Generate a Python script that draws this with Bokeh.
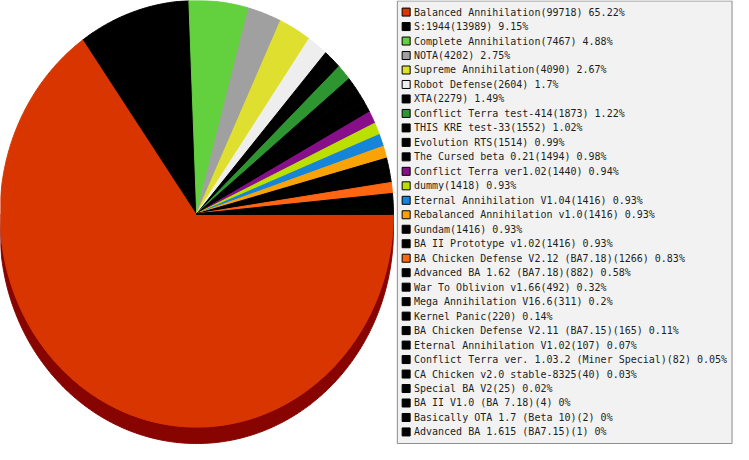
import numpy as np
from bokeh.plotting import figure
from bokeh.models import Range1d, ColumnDataSource
from bokeh.core.properties import value
from bokeh.embed import file_html
from bokeh.resources import INLINE

# ---------------- data ----------------
mods = [
    "Balanced Annihilation", "S:1944", "Complete Annihilation", "NOTA",
    "Supreme Annihilation", "Robot Defense", "XTA", "Conflict Terra test-414",
    "THIS KRE test-33", "Evolution RTS", "The Cursed beta 0.21",
    "Conflict Terra ver1.02", "dummy", "Eternal Annihilation V1.04",
    "Rebalanced Annihilation v1.0", "Gundam", "BA II Prototype v1.02",
    "BA Chicken Defense V2.12 (BA7.18)", "Advanced BA 1.62 (BA7.18)",
    "War To Oblivion v1.66", "Mega Annihilation V16.6", "Kernel Panic",
    "BA Chicken Defense V2.11 (BA7.15)", "Eternal Annihilation V1.02",
    "Conflict Terra ver. 1.03.2 (Miner Special)", "CA Chicken v2.0 stable-8325",
    "Special BA V2", "BA II V1.0 (BA 7.18)", "Basically OTA 1.7 (Beta 10)",
    "Advanced BA 1.615 (BA7.15)",
]
counts = [99718, 13989, 7467, 4202, 4090, 2604, 2279, 1873, 1552, 1514, 1494,
          1440, 1418, 1416, 1416, 1416, 1416, 1266, 882, 492, 311, 220, 165,
          107, 82, 40, 25, 4, 2, 1]
percents = ["65.22", "9.15", "4.88", "2.75", "2.67", "1.7", "1.49", "1.22",
            "1.02", "0.99", "0.98", "0.94", "0.93", "0.93", "0.93", "0.93",
            "0.93", "0.83", "0.58", "0.32", "0.2", "0.14", "0.11", "0.07",
            "0.05", "0.03", "0.02", "0", "0", "0"]
colors = ["#d93500", "#000000", "#63d13e", "#a0a0a0", "#dfdf2f", "#eeeeee",
          "#000000", "#2e9630", "#000000", "#000000", "#000000", "#880f8a",
          "#bbe000", "#1585d9", "#f9a307", "#000000", "#000000", "#ff6611",
          "#000000", "#000000", "#000000", "#000000", "#000000", "#000000",
          "#000000", "#000000", "#000000", "#000000", "#000000", "#000000"]

labels = [f"{m}({c}) {p}%" for m, c, p in zip(mods, counts, percents)]

# ---------------- layout (reference pixel space) ----------------
W, H = 733, 444
REF_W, REF_H = 749, 460
CX, CY, RX, RY, DEPTH = 200.5, 221.0, 201.0, 221.0, 17.0


def darken(h):
    h = h.lstrip("#")
    r, g, b = (int(h[i:i + 2], 16) for i in (0, 2, 4))
    f = lambda v: max(0, int(round(0.8 * v - 38)))
    return "#%02x%02x%02x" % (f(r), f(g), f(b))


vals = np.array(counts, dtype=float)
frac = vals / vals.sum()
ends = np.cumsum(frac) * 2 * np.pi
starts = ends - frac * 2 * np.pi

face_xs, face_ys = [], []
side_xs, side_ys, side_cols = [], [], []
for a, b, col in zip(starts, ends, colors):
    n = max(3, int(np.degrees(b - a) * 2) + 2)
    t = np.linspace(a, b, n)
    face_xs.append(np.concatenate([[CX], CX + RX * np.cos(t)]).tolist())
    face_ys.append(np.concatenate([[CY], CY + RY * np.sin(t)]).tolist())
    lo, hi = max(a, 0.0), min(b, np.pi)
    if hi > lo:
        m = max(3, int(np.degrees(hi - lo) * 2) + 2)
        s = np.linspace(lo, hi, m)
        ax = CX + RX * np.cos(s)
        ay = CY + RY * np.sin(s)
        side_xs.append(np.concatenate([ax, ax[::-1]]).tolist())
        side_ys.append(np.concatenate([ay, (ay + DEPTH)[::-1]]).tolist())
        side_cols.append(darken(col))

p = figure(width=W, height=H, output_backend="svg", toolbar_location=None,
           x_range=Range1d(0, REF_W), y_range=Range1d(REF_H, 0),
           min_border=0, outline_line_color=None)
p.axis.visible = False
p.grid.visible = False
p.background_fill_color = "white"
p.border_fill_color = "white"

p.patches(side_xs, side_ys, fill_color=side_cols, line_color=side_cols,
          line_width=1, line_join="round")
p.patches(face_xs, face_ys, fill_color=colors, line_color=colors,
          line_width=1, line_join="round")

# legend box
p.quad(left=405.5, right=747.5, top=0.5, bottom=459.0,
       fill_color="#f2f2f2", line_color="#8c8c8c", line_width=1)

rows = np.arange(len(labels))
leg = ColumnDataSource(dict(
    x=np.full(len(labels), 414.5),
    tx=np.full(len(labels), 422.5),
    y=12.0 + 15.0 * rows,
    label=labels,
    color=colors,
))
p.scatter("x", "y", source=leg, marker="square", size=8,
          fill_color="color", line_color="#000000", line_width=1)
p.text("tx", "y", text="label", source=leg,
       text_font=value("DejaVu Sans Mono"), text_font_size="10px",
       text_baseline="middle", text_align="left", text_color="#1e1e1e")

open("out.html", "w").write(file_html(p, INLINE))
